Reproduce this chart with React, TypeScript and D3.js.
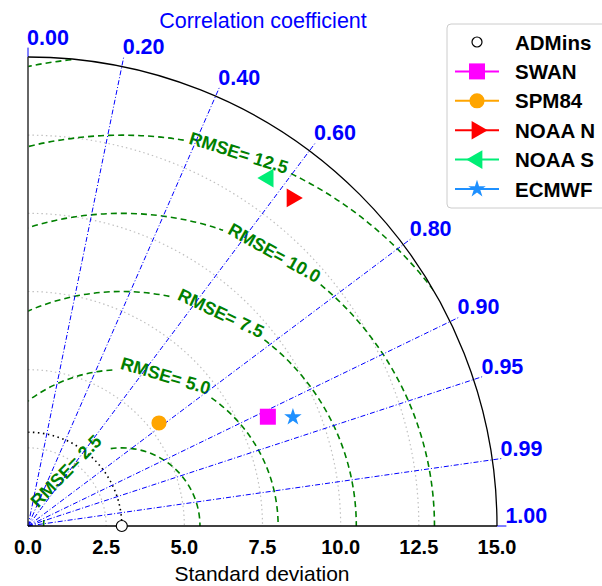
import React from "react";
import * as d3 from "d3";

// Taylor diagram data
const refName = "ADMins";
const refStd = 3.0;

const modelNames = ["SWAN", "SPM84", "NOAA N", "NOAA S", "ECMWF"];
const modelStd = [8.43, 5.33, 13.47, 13.52, 9.16];
const modelCorr = [0.91, 0.786, 0.627, 0.568, 0.925];
const modelColors = ["#ff00ff", "#ffa500", "#ff0000", "#00ee76", "#1e90ff"];
const modelSymbols = ["square", "circle", "triRight", "triLeft", "star"];

const stdTicks = [0, 2.5, 5, 7.5, 10, 12.5, 15];
const stdGrid = [2.5, 5, 7.5, 10, 12.5];
const corrTicks = [0, 0.2, 0.4, 0.6, 0.8, 0.9, 0.95, 0.99, 1.0];
const rmseLevels = [2.5, 5, 7.5, 10, 12.5, 15];
// angle (deg, around the reference point) where each rmse label sits
const rmseLabelAngle = [135.5, 73.7, 65, 60.8, 72.6, null];

const W = 602;
const H = 586;
const cx = 28;
const cy = 526;
const maxStd = 15;
const R = 469;
const font = "'Liberation Sans', Arial, Helvetica, sans-serif";

const rScale = d3.scaleLinear().domain([0, maxStd]).range([0, R]);

function polar(s: number, c: number): [number, number] {
  const th = Math.acos(c);
  return [cx + rScale(s * Math.cos(th)), cy - rScale(s * Math.sin(th))];
}

function quarterArc(rad: number) {
  const p = d3.path();
  p.moveTo(cx, cy - rad);
  p.arc(cx, cy, rad, -Math.PI / 2, 0);
  return p.toString();
}

function markerPath(kind: string) {
  if (kind === "square") return d3.symbol(d3.symbolSquare, 256)()!;
  if (kind === "circle") return d3.symbol(d3.symbolCircle, 180)()!;
  if (kind === "star") return d3.symbol(d3.symbolStar, 95)()!;
  return d3.symbol(d3.symbolTriangle, 150)()!;
}

function markerRotate(kind: string) {
  if (kind === "triRight") return 90;
  if (kind === "triLeft") return -90;
  return 0;
}

const Marker = ({ kind, color, x, y }: any) => (
  <path
    d={markerPath(kind)}
    fill={color}
    transform={`translate(${x},${y}) rotate(${markerRotate(kind)})`}
  />
);

export default function App() {
  const clip = (() => {
    const p = d3.path();
    p.moveTo(cx, cy);
    p.lineTo(cx, cy - R);
    p.arc(cx, cy, R, -Math.PI / 2, 0);
    p.closePath();
    return p.toString();
  })();

  const gx = cx + rScale(refStd);
  const labelSize = 18;

  const rmse = rmseLevels.map((k, i) => {
    const rr = rScale(k);
    const ang = rmseLabelAngle[i];
    const p = d3.path();
    let label = null;
    if (ang == null) {
      p.moveTo(gx - rr, cy);
      p.arc(gx, cy, rr, -Math.PI, 0);
    } else {
      const phi = (ang * Math.PI) / 180;
      const text = `RMSE= ${d3.format(".1f")(k)}`;
      const tw = text.length * labelSize * 0.58;
      const g = (tw / 2 + 4) / rr;
      p.moveTo(gx - rr, cy);
      p.arc(gx, cy, rr, -Math.PI, -(phi + g));
      p.moveTo(gx + rr * Math.cos(phi - g), cy - rr * Math.sin(phi - g));
      p.arc(gx, cy, rr, -(phi - g), 0);
      const lx = gx + rr * Math.cos(phi);
      const ly = cy - rr * Math.sin(phi);
      label = (
        <text
          x={0}
          y={0}
          transform={`translate(${lx},${ly}) rotate(${90 - ang})`}
          textAnchor="middle"
          dominantBaseline="central"
          fill="#008000"
          fontWeight="bold"
          fontSize={labelSize}
        >
          {text}
        </text>
      );
    }
    return { d: p.toString(), label, k };
  });

  const legendRows = [refName, ...modelNames];

  return (
    <svg
      width={W}
      height={H}
      style={{ position: "absolute", left: 0, top: 0, background: "#fff" }}
      fontFamily={font}
    >
      <defs>
        <clipPath id="quarter">
          <path d={clip} />
        </clipPath>
      </defs>

      {/* std grid arcs */}
      {stdGrid.map((s) => (
        <path
          key={s}
          d={quarterArc(rScale(s))}
          fill="none"
          stroke="#c0c0c0"
          strokeWidth={1.2}
          strokeDasharray="1.5,3"
        />
      ))}

      {/* reference std */}
      <path
        d={quarterArc(rScale(refStd))}
        fill="none"
        stroke="#000"
        strokeWidth={1.6}
        strokeDasharray="1.5,3.5"
      />

      {/* rmse contours */}
      <g clipPath="url(#quarter)">
        {rmse.map((r) => (
          <path
            key={r.k}
            d={r.d}
            fill="none"
            stroke="#008000"
            strokeWidth={1.6}
            strokeDasharray="6,4"
          />
        ))}
      </g>
      {rmse.map((r) => (
        <g key={"l" + r.k}>{r.label}</g>
      ))}

      {/* correlation lines */}
      {corrTicks.map((c) => {
        const [x0, y0] = c === 0 || c === 1 ? polar(maxStd, c) : [cx, cy];
        const [x1, y1] = polar(maxStd * 1.02, c);
        return (
          <line
            key={c}
            x1={x0}
            y1={y0}
            x2={x1}
            y2={y1}
            stroke="#0000ff"
            strokeWidth={1}
            strokeDasharray={c === 0 || c === 1 ? undefined : "5,2,1,2"}
          />
        );
      })}
      {corrTicks.map((c) => {
        const [x1, y1] = polar(maxStd * 1.02, c);
        return (
          <text
            key={"t" + c}
            x={x1 - 1}
            y={y1 - 3}
            fill="#0000ff"
            fontWeight="bold"
            fontSize={21.5}
          >
            {d3.format(".2f")(c)}
          </text>
        );
      })}

      {/* outer arc and axes */}
      <path d={quarterArc(R)} fill="none" stroke="#000" strokeWidth={1.3} />
      <line x1={cx} y1={cy} x2={cx} y2={cy - R} stroke="#333" strokeWidth={1.5} />
      <line x1={cx} y1={cy} x2={cx + R} y2={cy} stroke="#000" strokeWidth={1.5} />

      {stdTicks.map((s) => (
        <text
          key={"x" + s}
          x={cx + rScale(s)}
          y={cy + 28}
          textAnchor="middle"
          fontWeight="bold"
          fontSize={20}
          fill="#000"
        >
          {d3.format(".1f")(s)}
        </text>
      ))}
      <text x={262} y={581} textAnchor="middle" fontSize={21} fill="#000">
        Standard deviation
      </text>
      <text x={263} y={28} textAnchor="middle" fontSize={21.5} fill="#0000ff">
        Correlation coefficient
      </text>

      {/* points */}
      {modelNames.map((n, i) => {
        const [x, y] = polar(modelStd[i], modelCorr[i]);
        return <Marker key={n} kind={modelSymbols[i]} color={modelColors[i]} x={x} y={y} />;
      })}
      <circle
        cx={polar(refStd, 1)[0]}
        cy={polar(refStd, 1)[1]}
        r={5.5}
        fill="#fff"
        stroke="#000"
        strokeWidth={1.2}
      />

      {/* legend */}
      <rect
        x={447}
        y={24}
        width={170}
        height={184}
        rx={4}
        fill="#fff"
        fillOpacity={0.85}
        stroke="#cccccc"
        strokeWidth={1}
      />
      {legendRows.map((name, i) => {
        const y = 42 + i * 29.4;
        return (
          <g key={name}>
            {i === 0 ? (
              <circle cx={477} cy={y} r={5} fill="#fff" stroke="#000" strokeWidth={1.2} />
            ) : (
              <>
                <line x1={455} y1={y} x2={499} y2={y} stroke={modelColors[i - 1]} strokeWidth={2} />
                <Marker kind={modelSymbols[i - 1]} color={modelColors[i - 1]} x={477} y={y} />
              </>
            )}
            <text x={515} y={y + 7.5} fontWeight="bold" fontSize={20.5} fill="#000">
              {name}
            </text>
          </g>
        );
      })}
    </svg>
  );
}
